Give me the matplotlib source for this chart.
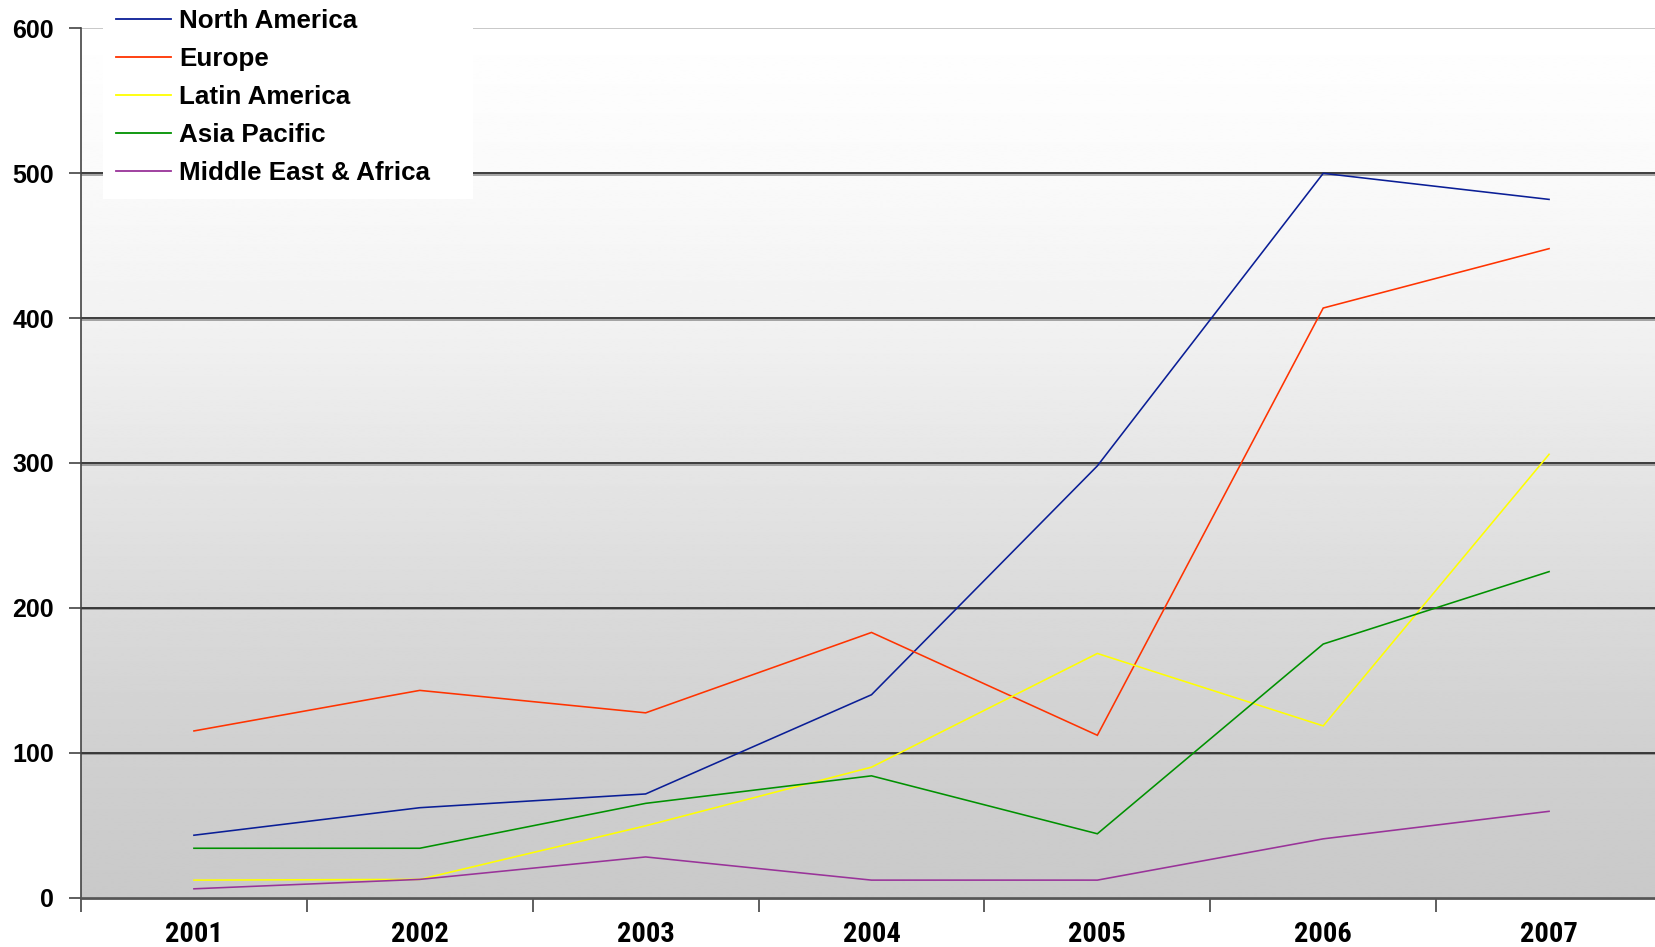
"""Regional totals 2001-2007, line chart on a shaded plot area."""
import numpy as np
import matplotlib
matplotlib.use("Agg")
import matplotlib.pyplot as plt
import matplotlib.patheffects as pe
from matplotlib.lines import Line2D
from matplotlib.patches import Rectangle

years = ["2001", "2002", "2003", "2004", "2005", "2006", "2007"]

north_america = [43, 62, 71.5, 140, 298, 500, 482]
europe = [115, 143, 127.5, 183, 112, 407, 448]
latin_america = [12, 12.5, 49.5, 90, 168.5, 118.5, 306]
asia_pacific = [34, 34, 65, 84, 44, 175, 225]
middle_east_africa = [6, 12.5, 28, 12, 12, 40.5, 59.5]

series = [
    ("North America", north_america, "#0a1e96"),
    ("Europe", europe, "#ff3300"),
    ("Latin America", latin_america, "#ffff00"),
    ("Asia Pacific", asia_pacific, "#009100"),
    ("Middle East & Africa", middle_east_africa, "#993399"),
]

plt.rcParams["font.family"] = ["Liberation Sans", "DejaVu Sans"]
plt.rcParams["font.weight"] = "bold"

W, H = 1655, 947
fig = plt.figure(figsize=(W / 100, H / 100), dpi=100)
fig.patch.set_facecolor("white")

# plot area in pixels: left 81, right 1662 (runs a bit past the edge), y 28.5..897.5
left, right, top, bottom = 81, 1662, 28.5, 897.5
ax = fig.add_axes([left / W, 1 - bottom / H, (right - left) / W, (bottom - top) / H])
ax.set_xlim(-0.5, 6.5)
ax.set_ylim(0, 600)

# vertical grey shading, white at the top to mid grey at the bottom
shade_at = [0, 100, 200, 300, 400, 500, 600]
shade_lvl = [0xc9, 0xd0, 0xda, 0xe6, 0xf2, 0xfa, 0xff]
rows = np.linspace(0, 600, 600)
grey = np.interp(rows, shade_at, shade_lvl) / 255.0
img = np.repeat(grey[::-1, None], 2, axis=1)
ax.imshow(img, cmap="gray", vmin=0, vmax=1, aspect="auto",
          extent=(-0.5, 6.5, 0, 600), zorder=0, interpolation="bilinear")

for y in range(100, 600, 100):
    ax.axhline(y, color="#2e2e2e", lw=1.3, zorder=1,
               path_effects=[pe.SimpleLineShadow(offset=(0, -1.2), shadow_color="#777777", alpha=0.7),
                             pe.Normal()])
ax.axhline(600, color="#c4c4c4", lw=1.3, zorder=1)

x = np.arange(len(years))
for name, vals, col in series:
    ax.plot(x, vals, color=col, lw=1.15, label=name, zorder=3,
            solid_joinstyle="miter")

for side in ("top", "right"):
    ax.spines[side].set_visible(False)
ax.spines["left"].set_color("#444444")
ax.spines["left"].set_linewidth(1.2)
ax.spines["bottom"].set_color("#555555")
ax.spines["bottom"].set_linewidth(2.0)
ax.spines["bottom"].set_zorder(4)

ax.set_yticks(range(0, 601, 100))
ax.tick_params(axis="y", direction="out", length=9, width=1.1, color="#333333",
               pad=10.5, labelsize=18)

ax.set_xticks(np.arange(-0.5, 7, 1.0))
ax.set_xticks(x, minor=True)
ax.tick_params(axis="x", which="major", direction="out", length=10, width=1.1,
               color="#333333", labelbottom=False)
ax.tick_params(axis="x", which="minor", length=0, pad=17, labelsize=20.5)
ax.set_xticklabels(years, minor=True)
for lbl in ax.get_xticklabels(minor=True):
    lbl.set_fontfamily(["Roboto Condensed", "Liberation Sans", "DejaVu Sans"])
    lbl.set_fontweight("bold")

# legend sits on its own white panel in the upper left
ax.add_patch(Rectangle((103 / W, 1 - 199 / H), 370 / W, 199 / H, transform=fig.transFigure,
                       facecolor="white", edgecolor="none", clip_on=False, zorder=5))
handles = [Line2D([], [], color=col, lw=1.3) for _, _, col in series]
leg = ax.legend(handles, [s[0] for s in series], loc="upper left",
                bbox_to_anchor=(103 / W, 1 + 4 / H), bbox_transform=fig.transFigure,
                frameon=False, borderaxespad=0, borderpad=0.5,
                handlelength=2.1, handletextpad=0.32, labelspacing=0.54,
                prop={"weight": "bold", "size": 18.7})
leg.set_zorder(6)

fig.savefig("out.png", dpi=100)
